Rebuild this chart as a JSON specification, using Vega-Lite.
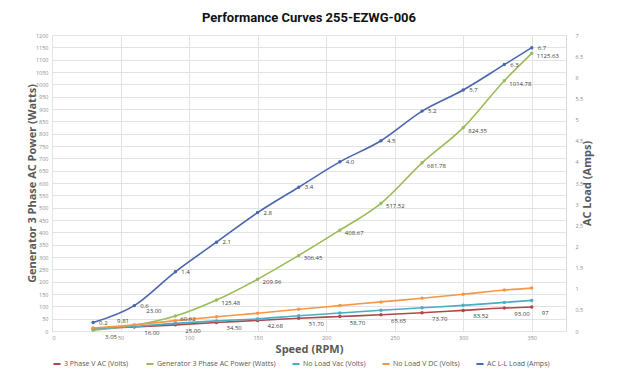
{
  "$schema": "https://vega.github.io/schema/vega-lite/v6.json",
  "width": 514,
  "height": 296,
  "autosize": {"type": "none"},
  "padding": {"left": 52, "top": 35, "right": 52, "bottom": 53},
  "background": "white",
  "title": {"text": "Performance Curves 255-EZWG-006", "fontSize": 13, "font": "Roboto", "fontWeight": "bold", "color": "#111111", "anchor": "middle", "offset": 8},
  "config": {
    "font": "Open Sans",
    "view": {"stroke": "#d9d9d9"},
    "axis": {"labelFont": "Open Sans", "labelFontSize": 5.5, "labelColor": "#8c8c8c", "gridColor": "#e3e3e3", "domain": false, "ticks": false, "titleFont": "Open Sans", "titleFontWeight": "bold", "titleColor": "#595959", "titleFontSize": 11},
    "legend": {"labelFont": "Open Sans", "labelFontSize": 7, "labelColor": "#595959"}
  },
  "datasets": {
    "perf": [
      {"rpm": 30, "series": "3 Phase V AC  (Volts)", "value": 9.81, "label": "9.81"},
      {"rpm": 60, "series": "3 Phase V AC  (Volts)", "value": 16.0, "label": "16.00"},
      {"rpm": 90, "series": "3 Phase V AC  (Volts)", "value": 25.0, "label": "25.00"},
      {"rpm": 120, "series": "3 Phase V AC  (Volts)", "value": 34.5, "label": "34.50"},
      {"rpm": 150, "series": "3 Phase V AC  (Volts)", "value": 42.68, "label": "42.68"},
      {"rpm": 180, "series": "3 Phase V AC  (Volts)", "value": 51.7, "label": "51.70"},
      {"rpm": 210, "series": "3 Phase V AC  (Volts)", "value": 58.7, "label": "58.70"},
      {"rpm": 240, "series": "3 Phase V AC  (Volts)", "value": 65.65, "label": "65.65"},
      {"rpm": 270, "series": "3 Phase V AC  (Volts)", "value": 73.7, "label": "73.70"},
      {"rpm": 300, "series": "3 Phase V AC  (Volts)", "value": 83.52, "label": "83.52"},
      {"rpm": 330, "series": "3 Phase V AC  (Volts)", "value": 93.0, "label": "93.00"},
      {"rpm": 350, "series": "3 Phase V AC  (Volts)", "value": 97, "label": "97"},
      {"rpm": 30, "series": "Generator 3 Phase AC Power (Watts)", "value": 3.05, "label": "3.05"},
      {"rpm": 60, "series": "Generator 3 Phase AC Power (Watts)", "value": 23.0, "label": "23.00"},
      {"rpm": 90, "series": "Generator 3 Phase AC Power (Watts)", "value": 60.62, "label": "60.62"},
      {"rpm": 120, "series": "Generator 3 Phase AC Power (Watts)", "value": 125.48, "label": "125.48"},
      {"rpm": 150, "series": "Generator 3 Phase AC Power (Watts)", "value": 209.96, "label": "209.96"},
      {"rpm": 180, "series": "Generator 3 Phase AC Power (Watts)", "value": 306.45, "label": "306.45"},
      {"rpm": 210, "series": "Generator 3 Phase AC Power (Watts)", "value": 408.67, "label": "408.67"},
      {"rpm": 240, "series": "Generator 3 Phase AC Power (Watts)", "value": 517.52, "label": "517.52"},
      {"rpm": 270, "series": "Generator 3 Phase AC Power (Watts)", "value": 681.78, "label": "681.78"},
      {"rpm": 300, "series": "Generator 3 Phase AC Power (Watts)", "value": 824.35, "label": "824.35"},
      {"rpm": 330, "series": "Generator 3 Phase AC Power (Watts)", "value": 1014.78, "label": "1014.78"},
      {"rpm": 350, "series": "Generator 3 Phase AC Power (Watts)", "value": 1125.63, "label": "1125.63"},
      {"rpm": 30, "series": "No Load Vac (Volts)", "value": 9},
      {"rpm": 60, "series": "No Load Vac (Volts)", "value": 18},
      {"rpm": 90, "series": "No Load Vac (Volts)", "value": 31},
      {"rpm": 120, "series": "No Load Vac (Volts)", "value": 41},
      {"rpm": 150, "series": "No Load Vac (Volts)", "value": 49},
      {"rpm": 180, "series": "No Load Vac (Volts)", "value": 62},
      {"rpm": 210, "series": "No Load Vac (Volts)", "value": 73},
      {"rpm": 240, "series": "No Load Vac (Volts)", "value": 84},
      {"rpm": 270, "series": "No Load Vac (Volts)", "value": 94},
      {"rpm": 300, "series": "No Load Vac (Volts)", "value": 104},
      {"rpm": 330, "series": "No Load Vac (Volts)", "value": 116},
      {"rpm": 350, "series": "No Load Vac (Volts)", "value": 124},
      {"rpm": 30, "series": "No Load V DC (Volts)", "value": 12},
      {"rpm": 60, "series": "No Load V DC (Volts)", "value": 25},
      {"rpm": 90, "series": "No Load V DC (Volts)", "value": 42},
      {"rpm": 120, "series": "No Load V DC (Volts)", "value": 58},
      {"rpm": 150, "series": "No Load V DC (Volts)", "value": 72},
      {"rpm": 180, "series": "No Load V DC (Volts)", "value": 88},
      {"rpm": 210, "series": "No Load V DC (Volts)", "value": 103},
      {"rpm": 240, "series": "No Load V DC (Volts)", "value": 118},
      {"rpm": 270, "series": "No Load V DC (Volts)", "value": 133},
      {"rpm": 300, "series": "No Load V DC (Volts)", "value": 149},
      {"rpm": 330, "series": "No Load V DC (Volts)", "value": 166},
      {"rpm": 350, "series": "No Load V DC (Volts)", "value": 174},
      {"rpm": 30, "series": "AC L-L Load (Amps)", "value": 0.2, "label": "0.2"},
      {"rpm": 60, "series": "AC L-L Load (Amps)", "value": 0.6, "label": "0.6"},
      {"rpm": 90, "series": "AC L-L Load (Amps)", "value": 1.4, "label": "1.4"},
      {"rpm": 120, "series": "AC L-L Load (Amps)", "value": 2.1, "label": "2.1"},
      {"rpm": 150, "series": "AC L-L Load (Amps)", "value": 2.8, "label": "2.8"},
      {"rpm": 180, "series": "AC L-L Load (Amps)", "value": 3.4, "label": "3.4"},
      {"rpm": 210, "series": "AC L-L Load (Amps)", "value": 4.0, "label": "4.0"},
      {"rpm": 240, "series": "AC L-L Load (Amps)", "value": 4.5, "label": "4.5"},
      {"rpm": 270, "series": "AC L-L Load (Amps)", "value": 5.2, "label": "5.2"},
      {"rpm": 300, "series": "AC L-L Load (Amps)", "value": 5.7, "label": "5.7"},
      {"rpm": 330, "series": "AC L-L Load (Amps)", "value": 6.3, "label": "6.3"},
      {"rpm": 350, "series": "AC L-L Load (Amps)", "value": 6.7, "label": "6.7"}
    ]
  },
  "data": {"name": "perf"},
  "layer": [
    {
      "transform": [{"filter": "datum.series !== 'AC L-L Load (Amps)'"}],
      "encoding": {
        "x": {"field": "rpm", "type": "quantitative", "scale": {"domain": [0, 375]},
          "axis": {"title": "Speed (RPM)", "values": [0,25,50,75,100,125,150,175,200,225,250,275,300,325,350,375], "labelPadding": 4, "titlePadding": 3}},
        "y": {"field": "value", "type": "quantitative", "scale": {"domain": [0, 1200]},
          "axis": {"title": "Generator 3 Phase AC Power (Watts)", "format": "d", "values": [0,50,100,150,200,250,300,350,400,450,500,550,600,650,700,750,800,850,900,950,1000,1050,1100,1150,1200], "labelPadding": 4, "titlePadding": -2}}
      },
      "layer": [
        {
          "mark": {"type": "line", "interpolate": "monotone", "strokeWidth": 1.6, "point": {"filled": true, "size": 12}},
          "encoding": {
            "color": {"field": "series", "type": "nominal",
              "scale": {"domain": ["3 Phase V AC  (Volts)", "Generator 3 Phase AC Power (Watts)", "No Load Vac (Volts)", "No Load V DC (Volts)", "AC L-L Load (Amps)"], "range": ["#b0474a", "#9bbb59", "#4bacc6", "#f79646", "#4a66ac"]},
              "legend": {"title": null, "orient": "bottom", "direction": "horizontal", "symbolType": "stroke", "symbolStrokeWidth": 2, "symbolSize": 50, "labelOffset": 2, "columnPadding": 12, "offset": 4}}
          }
        },
        {
          "transform": [{"filter": "datum.series === 'Generator 3 Phase AC Power (Watts)' && datum.rpm > 60"}],
          "mark": {"type": "text", "align": "left", "dx": 5, "dy": 3, "fontSize": 6, "color": "#404040"},
          "encoding": {"text": {"field": "label"}}
        },
        {
          "transform": [{"filter": "datum.series === 'Generator 3 Phase AC Power (Watts)' && datum.rpm == 30"}],
          "mark": {"type": "text", "align": "left", "dx": 12, "dy": 7, "fontSize": 6, "color": "#404040"},
          "encoding": {"text": {"field": "label"}}
        },
        {
          "transform": [{"filter": "datum.series === 'Generator 3 Phase AC Power (Watts)' && datum.rpm == 60"}],
          "mark": {"type": "text", "align": "left", "dx": 12, "dy": -14, "fontSize": 6, "color": "#404040"},
          "encoding": {"text": {"field": "label"}}
        },
        {
          "transform": [{"filter": "datum.series === '3 Phase V AC  (Volts)' && datum.rpm == 30"}],
          "mark": {"type": "text", "align": "left", "dx": 24, "dy": -8, "fontSize": 6, "color": "#404040"},
          "encoding": {"text": {"field": "label"}}
        },
        {
          "transform": [{"filter": "datum.series === '3 Phase V AC  (Volts)' && datum.rpm > 30"}],
          "mark": {"type": "text", "align": "left", "dx": 10, "dy": 6, "fontSize": 6, "color": "#404040"},
          "encoding": {"text": {"field": "label"}}
        }
      ]
    },
    {
      "transform": [{"filter": "datum.series === 'AC L-L Load (Amps)'"}],
      "encoding": {
        "x": {"field": "rpm", "type": "quantitative", "scale": {"domain": [0, 375]}},
        "y": {"field": "value", "type": "quantitative", "scale": {"domain": [0, 7]},
          "axis": {"title": "AC Load (Amps)", "orient": "right", "grid": false, "format": "~g", "titleAngle": -90, "values": [0,0.5,1,1.5,2,2.5,3,3.5,4,4.5,5,5.5,6,6.5,7], "labelPadding": 9, "titlePadding": 10}}
      },
      "layer": [
        {
          "mark": {"type": "line", "interpolate": "monotone", "strokeWidth": 1.6, "point": {"filled": true, "size": 12}},
          "encoding": {"color": {"field": "series", "type": "nominal"}}
        },
        {
          "mark": {"type": "text", "align": "left", "dx": 6, "dy": 0, "fontSize": 6, "color": "#404040"},
          "encoding": {"text": {"field": "label"}}
        }
      ]
    }
  ],
  "resolve": {"scale": {"y": "independent"}}
}
